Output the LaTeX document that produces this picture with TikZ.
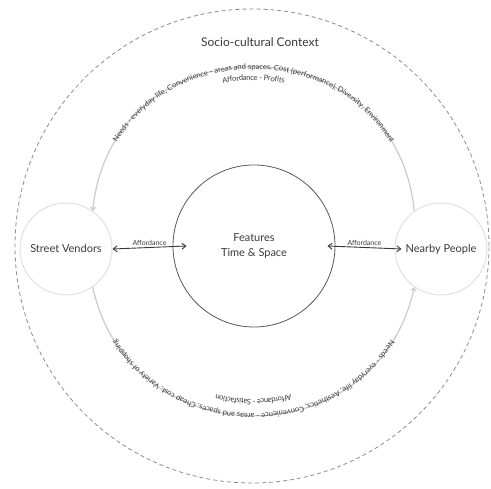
\documentclass[tikz,border=0pt]{standalone}
\usepackage{fontspec}
\setmainfont{Lato}
\usetikzlibrary{arrows.meta,decorations.text}
\definecolor{inkgray}{HTML}{3A3A3A}
\definecolor{ringgray}{HTML}{E0E0E0}
\definecolor{flowgray}{HTML}{CACACA}
\definecolor{dashgray}{HTML}{8C8C8C}
\newcommand{\arcfont}{\fontsize{7.6}{8}\selectfont\color{inkgray}}

\begin{document}
\begin{tikzpicture}[x=1pt,y=1pt,
  ring/.style={circle,draw=ringgray,line width=1pt,minimum size=92pt,
    inner sep=0pt,font=\fontsize{11}{13}\selectfont,text=inkgray},
  core/.style={circle,draw=inkgray!85,line width=0.8pt,minimum size=162pt,
    align=center,font=\fontsize{11}{15}\selectfont,text=inkgray},
  context/.style={circle,draw=dashgray,line width=0.8pt,
    dash pattern=on 4pt off 3pt,minimum size=474pt},
  title/.style={font=\fontsize{12}{14}\selectfont,text=inkgray},
  tag/.style={font=\fontsize{7}{8}\selectfont,text=inkgray,inner sep=1.5pt},
  arr/.style={{Straight Barb[length=4pt,width=6pt]}-{Straight Barb[length=4pt,width=6pt]},
    line width=0.9pt,draw=inkgray},
  flow/.style={-{Straight Barb[length=3pt,width=5pt]},line width=1.2pt,draw=flowgray},
  arctext/.style={decorate,decoration={text along path,text align=center,
    raise=#1}}]

  \useasboundingbox (0,0) rectangle (491,489);

  \node[context] (context) at (252,243) {};
  \node[title] (title) at (260,447) {Socio-cultural Context};

  \node[ring] (vendors) at (66,240) {Street Vendors};
  \node[ring] (people) at (441,240) {Nearby People};
  \node[core] (core) at (254,243) {Features\\Time \& Space};

  % affordance links
  \draw[arr] (vendors.east) -- ([xshift=14pt]core.west)
    node[tag,midway,above] {Affordance};
  \draw[arr] ([xshift=-8pt]core.east) -- ([xshift=7pt]people.west)
    node[tag,midway,above] {Affordance};

  % outer flows
  \draw[flow] (people.125) to[out=96,in=84,looseness=1.54] (vendors.55);
  \draw[flow] (vendors.-55) to[out=-77.5,in=-102.5,looseness=1.4] (people.235);

  % texts on the flows
  \path[arctext=-2.2pt,decoration={text={|\arcfont|Needs - everyday life, Convenience - areas and spaces, Cost (performance), Diversity, Environment}}]
    (vendors.55) to[out=84,in=96,looseness=1.54] (people.125);
  \path[arctext=-13.5pt,decoration={text={|\arcfont|Affordance - Profits}}]
    (vendors.55) to[out=84,in=96,looseness=1.54] (people.125);
  \path[arctext=-2.2pt,decoration={text={|\arcfont|Needs - everyday life, Aesthetics, Convenience - areas and spaces, Cheap cost, Variety of shopping}}]
    (people.235) to[out=-102.5,in=-77.5,looseness=1.4] (vendors.-55);
  \path[arctext=-16.5pt,decoration={text={|\arcfont|Affordance - Satisfaction}}]
    (people.235) to[out=-102.5,in=-77.5,looseness=1.4] (vendors.-55);
\end{tikzpicture}
\end{document}
